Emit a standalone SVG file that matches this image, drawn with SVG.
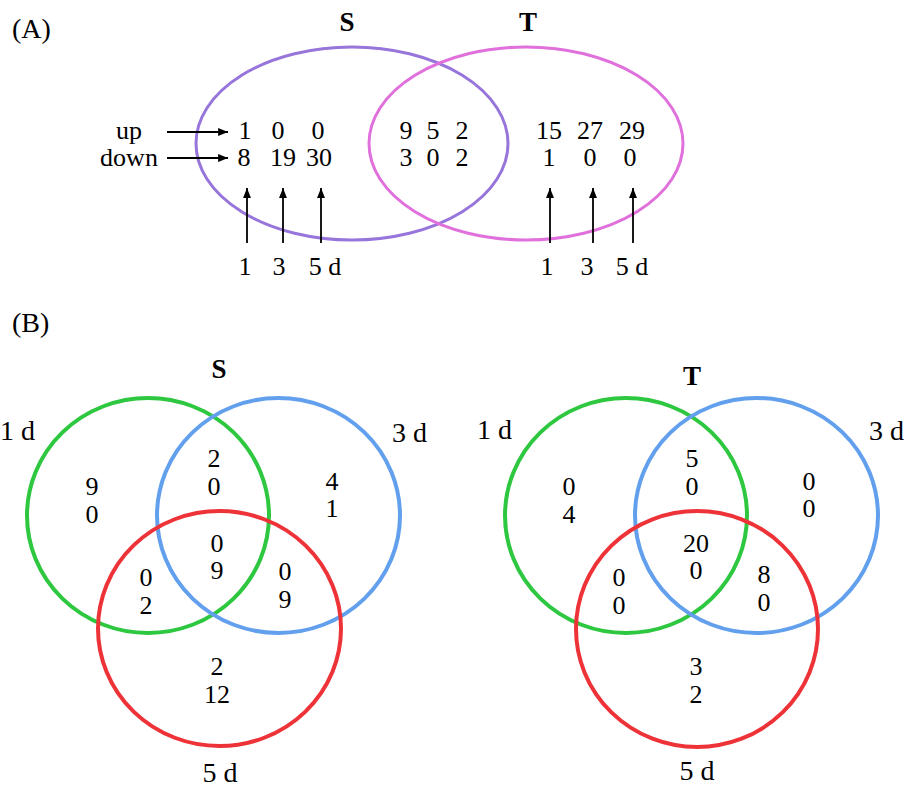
<svg xmlns="http://www.w3.org/2000/svg" width="911" height="787" viewBox="0 0 911 787" font-family="'Liberation Serif', 'Times New Roman', Times, 'DejaVu Serif', serif">
<style>
text{font-family:'Liberation Serif','Times New Roman',Times,'DejaVu Serif',serif;fill:#000}
.n{font-size:26px;text-anchor:middle}
.lab{font-size:28px}
.pl{font-size:28px}
.b{font-size:27px;font-weight:bold;text-anchor:middle}
.ar{stroke:#000;stroke-width:1.8;fill:none;marker-end:url(#ah)}
.c{fill:none;stroke-width:4}
</style>
<defs>
<marker id="ah" viewBox="0 0 10 10" refX="10" refY="5" markerWidth="5.5" markerHeight="5.5" markerUnits="strokeWidth" orient="auto">
<path d="M0,1 L10,5 L0,9 Z" fill="#000"/>
</marker>
</defs>
<rect width="911" height="787" fill="#fff"/>

<!-- Panel A -->
<text x="12" y="38" class="pl">(A)</text>
<g id="A-S">
<ellipse cx="352" cy="143.5" rx="156" ry="96.5" fill="none" stroke="#9775DA" stroke-width="3"/>
<text x="347" y="31" class="b">S</text>
</g>
<g id="A-T">
<ellipse cx="526" cy="143.5" rx="157" ry="96.5" fill="none" stroke="#E070DC" stroke-width="3"/>
<text x="528" y="31" class="b">T</text>
</g>
<g id="A-labels">
<text x="129" y="139" class="n">up</text>
<text x="129" y="166" class="n">down</text>
</g>
<g id="A-S-only">
<text x="245" y="139" class="n">1</text><text x="278" y="139" class="n">0</text><text x="318" y="139" class="n">0</text>
<text x="244" y="166" class="n">8</text><text x="283" y="166" class="n">19</text><text x="319" y="166" class="n">30</text>
</g>
<g id="A-both">
<text x="406" y="139" class="n">9</text><text x="433" y="139" class="n">5</text><text x="462" y="139" class="n">2</text>
<text x="406" y="166" class="n">3</text><text x="433" y="166" class="n">0</text><text x="462" y="166" class="n">2</text>
</g>
<g id="A-T-only">
<text x="549" y="139" class="n">15</text><text x="590" y="139" class="n">27</text><text x="632" y="139" class="n">29</text>
<text x="549" y="166" class="n">1</text><text x="590" y="166" class="n">0</text><text x="630" y="166" class="n">0</text>
</g>
<g id="A-days">
<text x="245" y="275" class="n">1</text><text x="279" y="275" class="n">3</text><text x="325" y="275" class="n">5 d</text>
<text x="547" y="275" class="n">1</text><text x="587" y="275" class="n">3</text><text x="632" y="275" class="n">5 d</text>
</g>
<g id="connectors">
<line x1="167" y1="132" x2="228" y2="132" class="ar"/>
<line x1="167" y1="158" x2="228" y2="158" class="ar"/>
<line x1="247" y1="243" x2="247" y2="188" class="ar"/>
<line x1="283" y1="243" x2="283" y2="188" class="ar"/>
<line x1="321" y1="243" x2="321" y2="188" class="ar"/>
<line x1="550" y1="243" x2="550" y2="188" class="ar"/>
<line x1="593" y1="243" x2="593" y2="188" class="ar"/>
<line x1="633" y1="243" x2="633" y2="188" class="ar"/>
</g>

<!-- Panel B -->
<text x="12" y="332" class="pl">(B)</text>
<g id="B-S">
<text x="219" y="378" class="b">S</text>
<ellipse cx="148" cy="515.5" rx="121" ry="117.5" class="c" stroke="#2EC740"/>
<ellipse cx="278.5" cy="515.5" rx="121.5" ry="117.5" class="c" stroke="#62A0EE"/>
<ellipse cx="219.5" cy="628.5" rx="121.5" ry="117.5" class="c" stroke="#EE3338"/>
<text x="0" y="440" class="lab">1 d</text>
<text x="392" y="442" class="lab">3 d</text>
<text x="220" y="782" class="lab" text-anchor="middle">5 d</text>
<text x="92" y="495" class="n">9</text><text x="92" y="523" class="n">0</text>
<text x="214" y="467" class="n">2</text><text x="214" y="495" class="n">0</text>
<text x="332" y="490" class="n">4</text><text x="332" y="517" class="n">1</text>
<text x="217" y="552" class="n">0</text><text x="217" y="579" class="n">9</text>
<text x="146" y="586" class="n">0</text><text x="146" y="614" class="n">2</text>
<text x="285" y="580" class="n">0</text><text x="285" y="608" class="n">9</text>
<text x="217" y="675" class="n">2</text><text x="217" y="703" class="n">12</text>
</g>
<g id="B-T">
<text x="692" y="385" class="b">T</text>
<ellipse cx="626" cy="515.5" rx="121" ry="117.5" class="c" stroke="#2EC740"/>
<ellipse cx="756.5" cy="515.5" rx="121.5" ry="117.5" class="c" stroke="#62A0EE"/>
<ellipse cx="697" cy="629" rx="121" ry="118" class="c" stroke="#EE3338"/>
<text x="477" y="439" class="lab">1 d</text>
<text x="869" y="440" class="lab">3 d</text>
<text x="697" y="780" class="lab" text-anchor="middle">5 d</text>
<text x="569" y="495" class="n">0</text><text x="569" y="523" class="n">4</text>
<text x="692" y="467" class="n">5</text><text x="692" y="495" class="n">0</text>
<text x="809" y="490" class="n">0</text><text x="809" y="517" class="n">0</text>
<text x="696" y="552" class="n">20</text><text x="696" y="579" class="n">0</text>
<text x="619" y="586" class="n">0</text><text x="619" y="614" class="n">0</text>
<text x="764" y="583" class="n">8</text><text x="764" y="611" class="n">0</text>
<text x="696" y="675" class="n">3</text><text x="696" y="703" class="n">2</text>
</g>
</svg>
